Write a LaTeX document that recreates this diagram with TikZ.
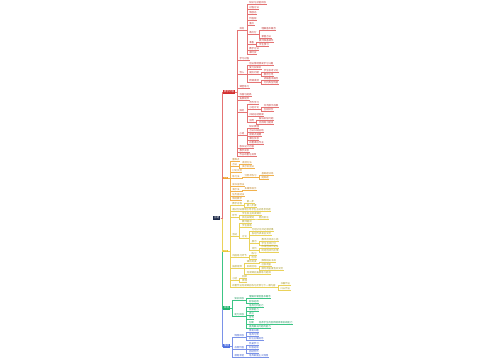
\documentclass[tikz,border=0pt]{standalone}
\usepackage{fontspec}
\newfontfamily\cjk{Noto Sans CJK SC}
\usetikzlibrary{calc}
\definecolor{cRoot}{HTML}{1E2B4A}
\definecolor{fR}{HTML}{D32F2F}\definecolor{tR}{HTML}{C03A3A}\definecolor{lR}{HTML}{E57373}
\definecolor{fO}{HTML}{F0A030}\definecolor{tO}{HTML}{C0842A}\definecolor{lO}{HTML}{F2B24D}
\definecolor{fY}{HTML}{E8C832}\definecolor{tY}{HTML}{A89A2A}\definecolor{lY}{HTML}{EAD25A}
\definecolor{fG}{HTML}{1DB36B}\definecolor{tG}{HTML}{1E9A60}\definecolor{lG}{HTML}{3CC585}
\definecolor{fB}{HTML}{4D6FE0}\definecolor{tB}{HTML}{3A5CCC}\definecolor{lB}{HTML}{7A92E8}
\tikzset{
  base/.style={font=\cjk\fontsize{2.4}{2.6}\selectfont, inner xsep=0.3pt, inner ysep=0.35pt, anchor=south west},
  kr/.style={base,text=tR}, kr ln/.style={draw=lR, line width=0.25pt},
  ko/.style={base,text=tO}, ko ln/.style={draw=lO, line width=0.25pt},
  ky/.style={base,text=tY}, ky ln/.style={draw=lY, line width=0.25pt},
  kg/.style={base,text=tG}, kg ln/.style={draw=lG, line width=0.25pt},
  kb/.style={base,text=tB}, kb ln/.style={draw=lB, line width=0.25pt},
  l1/.style={font=\cjk\fontsize{2.5}{2.7}\selectfont, text=white, inner xsep=0.8pt, inner ysep=0.6pt, anchor=west},
  l1s/.style={l1, font=\cjk\fontsize{1.7}{1.9}\selectfont, inner xsep=0.5pt, inner ysep=0.6pt},
  rootbox/.style={font=\cjk\fontsize{2.6}{2.8}\selectfont, text=white, fill=cRoot, inner xsep=1.2pt, inner ysep=0.8pt},
}
\newcommand\kid[5]{%
  \path let \p1=(#3) in node[#1] (#2) at (\x1+4pt,-#4pt) {#5};
  \draw[#1 ln] (#2.south west) -- (#2.south east);
  \draw[#1 ln] (#3) -- ++(2,0) |- (#2.south west);
}
\begin{document}
\begin{tikzpicture}[x=1pt,y=-1pt]
\useasboundingbox[fill=white] (0,0) rectangle (500,360);
\node[rootbox] (root) at (216.5,218) {主题};
\node[l1,fill=fR] (R) at (223,92) {教学内容};
\node[l1s,fill=fO] (O) at (223,178) {方法};
\node[l1s,fill=fY] (Y) at (223,251) {过程};
\node[l1,fill=fG] (G) at (223,308) {目标};
\node[l1,fill=fB] (B) at (223,346) {情感};
\draw[kb ln,line width=0.5pt] (root.east) -- ++(1.5,0) |- (B.west);
\draw[kg ln,line width=0.5pt] (root.east) -- ++(1.5,0) |- (G.west);
\draw[ky ln,line width=0.5pt] (root.east) -- ++(1.5,0) |- (Y.west);
\draw[ko ln,line width=0.5pt] (root.east) -- ++(1.5,0) |- (O.west);
\draw[kr ln,line width=0.5pt] (root.east) -- ++(1.5,0) |- (R.west);
% red
\kid{kr}{ra}{R.east}{30}{目标}
 \kid{kr}{ra1}{ra.south east}{4}{知识与技能目标}
 \kid{kr}{ra2}{ra.south east}{9}{过程方法}
 \kid{kr}{ra3}{ra.south east}{14}{情感态}
 \kid{kr}{ra4}{ra.south east}{20}{价值观}
 \kid{kr}{ra5}{ra.south east}{25}{重点}
 \kid{kr}{ra6}{ra.south east}{34}{难点分}
   \kid{kr}{ra6a}{ra6.south east}{30}{理解基本概念}
   \kid{kr}{ra6b}{ra6.south east}{38}{掌握方法}
 \kid{kr}{ra7}{ra.south east}{44}{准备}
   \kid{kr}{ra7a}{ra7.south east}{42}{教师准备课件}
   \kid{kr}{ra7b}{ra7.south east}{46}{学生预习}
 \kid{kr}{ra8}{ra.south east}{50}{教学方法}
 \kid{kr}{ra9}{ra.south east}{54}{课时安}
\kid{kr}{rb}{R.east}{60}{学习过程}
\kid{kr}{rc}{R.east}{74}{导入}
 \kid{kr}{rc1}{rc.south east}{65}{创设情境激发学习兴趣}
 \kid{kr}{rc2}{rc.south east}{69}{复习旧知识}
 \kid{kr}{rc3}{rc.south east}{74}{提出问题}
   \kid{kr}{rc3a}{rc3.south east}{72}{学生思考讨论}
   \kid{kr}{rc3b}{rc3.south east}{76}{教师引导}
 \kid{kr}{rc4}{rc.south east}{82}{新课讲授}
   \kid{kr}{rc4a}{rc4.south east}{80}{讲解基本概念}
   \kid{kr}{rc4b}{rc4.south east}{84}{分析典型例题}
\kid{kr}{rd}{R.east}{88}{课堂练习}
\kid{kr}{re}{R.east}{96}{巩固与提高}
\kid{kr}{rf}{R.east}{100}{拓展延伸}
\kid{kr}{rg}{R.east}{112}{探究}
 \kid{kr}{rg1}{rg.south east}{104}{合作学习}
 \kid{kr}{rg2}{rg.south east}{109}{小组讨论}
   \kid{kr}{rg2a}{rg2.south east}{107}{交流展示成果}
   \kid{kr}{rg2b}{rg2.south east}{111}{互相评价}
 \kid{kr}{rg3}{rg.south east}{116}{归纳总结规律}
 \kid{kr}{rg4}{rg.south east}{122}{应用}
   \kid{kr}{rg4a}{rg4.south east}{120}{解决实际问题}
   \kid{kr}{rg4b}{rg4.south east}{124}{完成练习题目}
\kid{kr}{rh}{R.east}{135}{小结}
 \kid{kr}{rh1}{rh.south east}{128}{知识梳理}
 \kid{kr}{rh2}{rh.south east}{132}{方法归纳总结}
 \kid{kr}{rh3}{rh.south east}{136}{易错点提醒}
 \kid{kr}{rh4}{rh.south east}{140}{课后反思}
 \kid{kr}{rh5}{rh.south east}{144}{布置课后作业}
\kid{kr}{ri}{R.east}{148}{板书设计内容}
\kid{kr}{rj}{R.east}{152}{教学反思}
\kid{kr}{rk}{R.east}{156}{作业布置与批改}
% orange
\kid{ko}{oa}{O.east}{161}{重难点}
\kid{ko}{ob}{O.east}{166}{方法}
 \kid{ko}{ob1}{ob.south east}{164}{讲授方法}
 \kid{ko}{ob2}{ob.south east}{168}{演示实验法}
\kid{ko}{oc}{O.east}{172}{讨论交流}
\kid{ko}{od}{O.east}{178}{练习法}
 \kid{ko}{od1}{od.south east}{177}{分层次练习}
   \kid{ko}{od1a}{od1.south east}{175}{基础题训练}
   \kid{ko}{od1b}{od1.south east}{179}{提高题}
\kid{ko}{oe}{O.east}{186}{读书指导法}
\kid{ko}{of}{O.east}{191}{演示法}
 \kid{ko}{of1}{of.south east}{190}{多媒体演示}
\kid{ko}{og}{O.east}{196}{任务驱动法}
\kid{ko}{oh}{O.east}{200}{情境教学}
% yellow
\kid{ky}{ya}{Y.east}{205}{教学过程}
 \kid{ky}{ya1}{ya.south east}{203}{第一步}
 \kid{ky}{ya2}{ya.south east}{207}{第二步骤}
\kid{ky}{yb}{Y.east}{211}{通过创设情境引导学生主动思考问题}
\kid{ky}{yc}{Y.east}{217}{环节}
 \kid{ky}{yc1}{yc.south east}{215}{学生自主阅读课文}
 \kid{ky}{yc2}{yc.south east}{219}{找出关键词}
   \kid{ky}{yc2a}{yc2.south east}{219}{圈点批注}
\kid{ky}{yd}{Y.east}{236}{活动}
 \kid{ky}{yd1}{yd.south east}{223}{教师提问}
 \kid{ky}{yd2}{yd.south east}{227}{学生回答}
 \kid{ky}{yd3}{yd.south east}{238}{讨论}
   \kid{ky}{yd3a}{yd3.south east}{231}{分组讨论并记录结果}
   \kid{ky}{yd3b}{yd3.south east}{235}{各组代表发言交流}
   \kid{ky}{yd3c}{yd3.south east}{243}{展示}
     \kid{ky}{yd3c1}{yd3c.south east}{241}{教师点评并小结}
     \kid{ky}{yd3c2}{yd3c.south east}{245}{学生互评打分}
   \kid{ky}{yd3d}{yd3.south east}{250}{评价}
     \kid{ky}{yd3d1}{yd3d.south east}{248}{形成性评价记录}
     \kid{ky}{yd3d2}{yd3d.south east}{252}{终结性评价反馈}
\kid{ky}{ye}{Y.east}{257}{巩固练习环节}
 \kid{ky}{ye1}{ye.south east}{255}{练习}
 \kid{ky}{ye2}{ye.south east}{259}{检测}
\kid{ky}{yf}{Y.east}{268}{拓展延伸}
 \kid{ky}{yf1}{yf.south east}{263}{课外阅读}
   \kid{ky}{yf1a}{yf1.south east}{262}{推荐相关书目}
 \kid{ky}{yf2}{yf.south east}{268}{实践活动}
   \kid{ky}{yf2a}{yf2.south east}{266}{社会调查}
   \kid{ky}{yf2b}{yf2.south east}{270}{撰写调查报告并交流}
 \kid{ky}{yf3}{yf.south east}{274}{完成课后拓展练习题目}
\kid{ky}{yg}{Y.east}{280}{小结}
 \kid{ky}{yg1}{yg.south east}{278}{回顾}
 \kid{ky}{yg2}{yg.south east}{282}{梳理}
\kid{ky}{yh}{Y.east}{287}{布置作业完成课后练习并预习下一课内容}
 \kid{ky}{yh1}{yh.south east}{285}{书面作业}
 \kid{ky}{yh2}{yh.south east}{290}{口头作业}
% green
\kid{kg}{ga}{G.east}{300}{知识目标}
 \kid{kg}{ga1}{ga.south east}{298}{理解并掌握基本概念}
 \kid{kg}{ga2}{ga.south east}{303}{能够运用}
\kid{kg}{gb}{G.east}{316}{能力目标}
 \kid{kg}{gb1}{gb.south east}{307}{培养分析能力}
 \kid{kg}{gb2}{gb.south east}{311}{观察能力}
 \kid{kg}{gb3}{gb.south east}{315}{表达}
 \kid{kg}{gb4}{gb.south east}{319}{合作}
 \kid{kg}{gb5}{gb.south east}{324}{创新}
   \kid{kg}{gb5a}{gb5.south east}{324}{培养学生的创新精神和实践能力}
 \kid{kg}{gb6}{gb.south east}{328}{提高解决问题的能力}
% blue
\kid{kb}{ba}{B.east}{337}{情感目标}
 \kid{kb}{ba1}{ba.south east}{332}{激发兴趣}
 \kid{kb}{ba2}{ba.south east}{336}{培养习惯}
 \kid{kb}{ba3}{ba.south east}{340}{树立正确观念}
\kid{kb}{bb}{B.east}{349}{态度价值}
 \kid{kb}{bb1}{bb.south east}{345}{热爱学习}
 \kid{kb}{bb2}{bb.south east}{349}{积极进取}
 \kid{kb}{bb3}{bb.south east}{353}{团结合作}
\kid{kb}{bc}{B.east}{357}{德育渗透}
 \kid{kb}{bc1}{bc.south east}{357}{培养爱国主义情感}
\end{tikzpicture}
\end{document}
